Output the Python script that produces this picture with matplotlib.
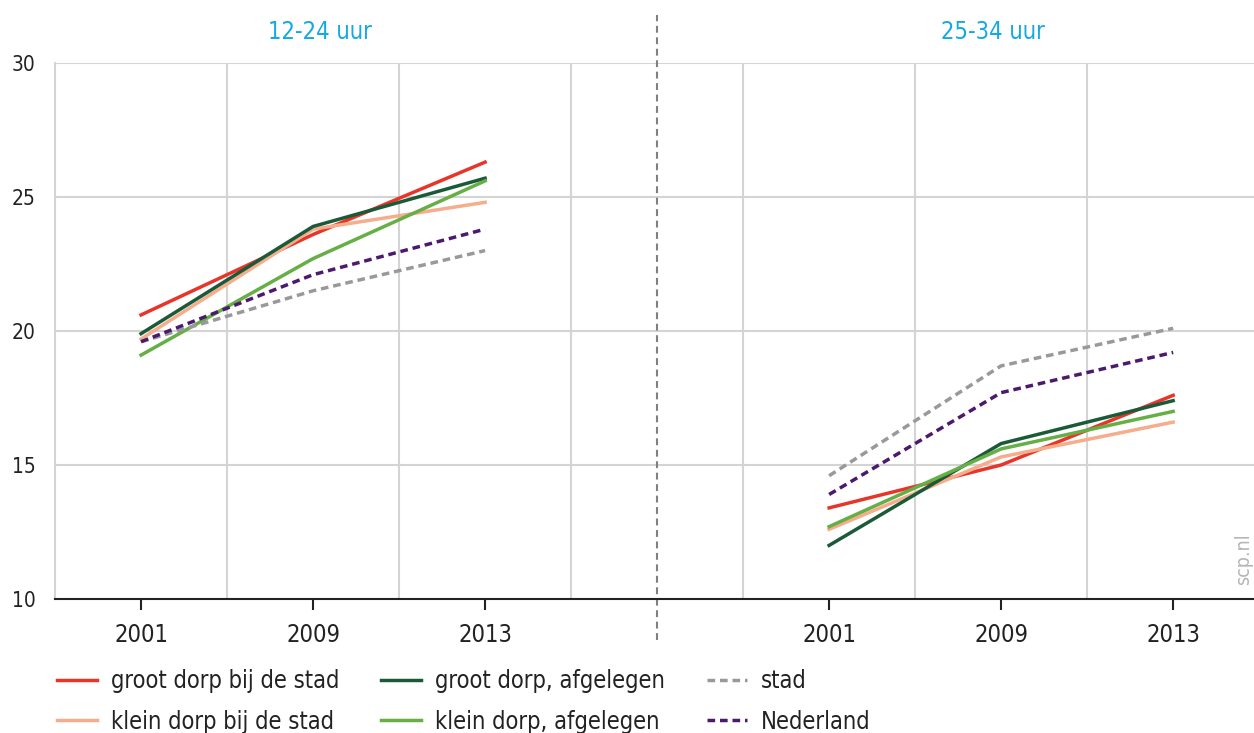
import matplotlib.pyplot as plt

plt.rcParams['font.family'] = ['DejaVu Sans']
plt.rcParams['font.stretch'] = 'condensed'

# categorieën (twee leeftijdsgroepen, elk drie jaren)
years = ['2001', '2009', '2013']
groups = ['12-24 uur', '25-34 uur']

# waarden per reeks: eerst 12-24, dan 25-34
groot_bij = [20.6, 23.6, 26.3, 13.4, 15.0, 17.6]
klein_bij = [19.7, 23.8, 24.8, 12.6, 15.3, 16.6]
groot_afg = [19.9, 23.9, 25.7, 12.0, 15.8, 17.4]
klein_afg = [19.1, 22.7, 25.6, 12.7, 15.6, 17.0]
stad = [19.6, 21.5, 23.0, 14.6, 18.7, 20.1]
nederland = [19.6, 22.1, 23.8, 13.9, 17.7, 19.2]

series = [
    ('groot dorp bij de stad', groot_bij, '#e8352a', '-'),
    ('klein dorp bij de stad', klein_bij, '#f6ad8c', '-'),
    ('groot dorp, afgelegen', groot_afg, '#1b5a38', '-'),
    ('klein dorp, afgelegen', klein_afg, '#66ae46', '-'),
    ('stad', stad, '#999999', (0, (2.2, 1.4))),
    ('Nederland', nederland, '#4b1a6e', (0, (2.2, 1.4))),
]

x_left = [0, 1, 2]
x_right = [4, 5, 6]

fig = plt.figure(figsize=(12.54, 7.33), dpi=100)
ax = fig.add_axes([0.0439, 0.1828, 0.9561, 0.7313])

handles = []
for label, vals, col, ls in series:
    ln, = ax.plot(x_left, vals[:3], color=col, lw=2.5, linestyle=ls,
                  label=label, zorder=3)
    ax.plot(x_right, vals[3:], color=col, lw=2.5, linestyle=ls, zorder=3)
    handles.append(ln)

ax.set_xlim(-0.5, 6.47)
ax.set_ylim(10, 30)
ax.set_yticks([10, 15, 20, 25, 30])
ax.set_xticks(x_left + x_right)
ax.set_xticklabels(years + years)

# rasterlijnen
for gx in [0.5, 1.5, 2.5, 3.5, 4.5, 5.5]:
    ax.axvline(gx, color='#d4d4d4', lw=1.5, zorder=1)
for gy in [15, 20, 25, 30]:
    ax.axhline(gy, color='#d4d4d4', lw=1.5, zorder=1)

for s in ['top', 'right']:
    ax.spines[s].set_visible(False)
ax.spines['left'].set_color('#d4d4d4')
ax.spines['left'].set_linewidth(1.5)
ax.spines['bottom'].set_color('#222222')
ax.spines['bottom'].set_linewidth(1.5)

ax.tick_params(axis='x', length=8, width=1.5, color='#222222',
               labelsize=17, pad=9, labelcolor='#222222')
ax.tick_params(axis='y', length=0, labelsize=15, pad=14, labelcolor='#222222')

# scheidingslijn tussen de panelen
ax.axvline(3, ymin=-0.077, ymax=1.09, color='#808080', lw=1.5,
           linestyle=(0, (3.3, 2.2)), clip_on=False, zorder=2)

ax.text(1.04, 1.057, groups[0], transform=ax.get_xaxis_transform(),
        ha='center', va='center', fontsize=17, color='#14a9e3')
ax.text(4.95, 1.057, groups[1], transform=ax.get_xaxis_transform(),
        ha='center', va='center', fontsize=17, color='#14a9e3')

fig.text(0.992, 0.202, 'scp.nl', rotation=90, ha='center', va='bottom',
         fontsize=14, color='#b5b5b5')

fig.legend(handles=handles, loc='upper left', bbox_to_anchor=(0.038, 0.1),
           ncol=3, frameon=False, fontsize=17, handlelength=1.7,
           handletextpad=0.6, columnspacing=1.75, labelspacing=0.7,
           labelcolor='#222222', borderaxespad=0)

plt.savefig('out.png', dpi=100)
